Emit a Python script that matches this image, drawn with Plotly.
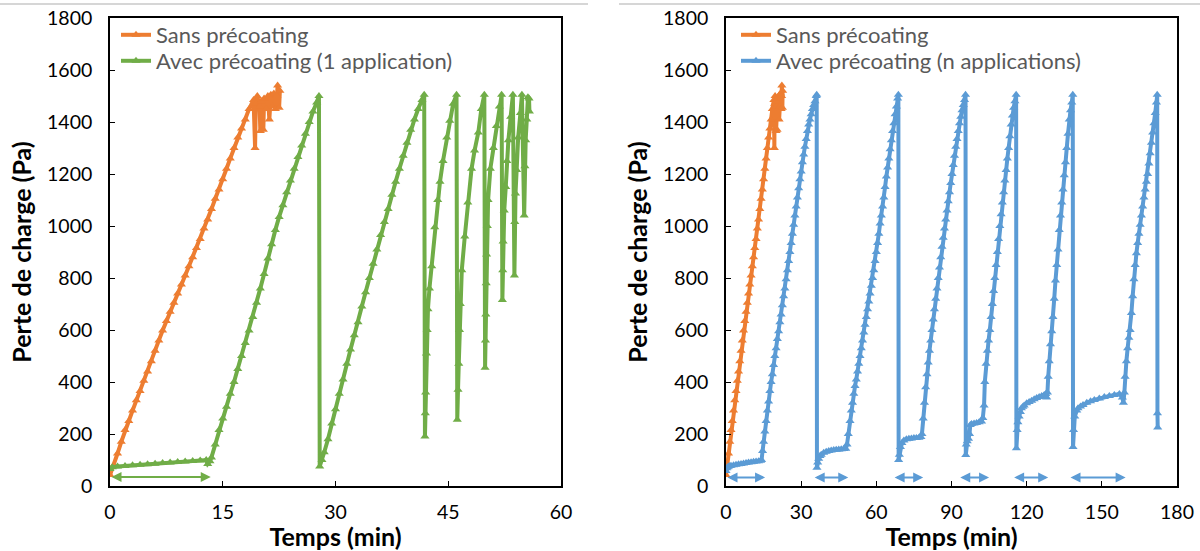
import plotly.graph_objects as go

# ---------------- data ----------------
# Sans précoating (same series drawn in both panels)
orange_t = [0, 0.5, 1, 1.5, 2, 2.5, 3, 3.5, 4, 4.5, 5, 5.5, 6, 6.5, 7, 7.5, 8, 8.5, 9, 9.5,
            10, 10.5, 11, 11.5, 12, 12.5, 13, 13.5, 14, 14.5, 15, 15.5, 16, 16.5, 17, 17.5, 18, 18.5,
            19.1, 19.3, 19.4, 19.6, 19.9, 20.0, 20.1, 20.4, 20.5, 20.8, 21.0, 21.2, 21.4, 21.6, 21.8,
            22.0, 22.2, 22.3, 22.5, 22.6]
orange_p = [42, 80, 125, 170, 215, 250, 290, 330, 365, 405, 440, 480, 520, 560, 598, 635, 670, 705, 740, 775,
            810, 845, 880, 915, 950, 990, 1025, 1065, 1105, 1140, 1180, 1220, 1260, 1300, 1340, 1375, 1410, 1450,
            1485, 1300, 1470, 1500, 1460, 1365, 1480, 1370, 1490, 1450, 1500, 1410, 1505, 1460, 1510,
            1450, 1500, 1540, 1455, 1520]

# Avec précoating (1 application)
green_t = [0, 0.3, 1, 2, 3, 4, 5, 6, 7, 8, 9, 10, 11, 12, 12.8, 13.0, 13.3,
           13.5, 14, 14.5, 15, 15.5, 16, 16.5, 17, 17.5, 18, 18.5, 19, 19.5, 20, 20.5, 21, 21.5, 22, 22.5,
           23, 23.5, 24, 24.5, 25, 25.5, 26, 26.5, 27, 27.5, 27.8,
           27.9, 28.2, 28.5, 29, 29.5, 30, 30.5, 31, 31.5, 32, 32.5, 33, 33.5, 34, 34.5, 35, 35.5, 36, 36.5,
           37, 37.5, 38, 38.5, 39, 39.5, 40, 40.5, 41, 41.5, 41.8,
           41.9, 41.95, 42.0, 42.1, 42.2, 42.3, 42.5, 42.8, 43.2, 43.6, 43.9, 44.3, 44.8, 45.2, 45.65, 46.1,
           46.2, 46.3, 46.4, 46.5, 46.6, 46.8, 47.2, 47.6, 48.1, 48.5, 49.0, 49.4, 49.8,
           49.9, 49.95, 50.0, 50.05, 50.1, 50.2, 50.3, 50.6, 51.0, 51.4, 51.8, 52.1,
           52.2, 52.25, 52.3, 52.45, 52.65, 52.8, 53.0, 53.3, 53.6,
           53.8, 53.85, 53.95, 54.1, 54.3, 54.6, 54.8,
           55.1, 55.2, 55.3, 55.45, 55.6, 55.75, 55.8]
green_p = [65, 72, 75, 77, 80, 82, 84, 86, 88, 90, 92, 94, 96, 98, 100, 85, 95,
           110, 160, 215, 260, 305, 355, 400, 450, 500, 550, 598, 650, 705, 760, 815, 875, 930, 985, 1035,
           1080, 1130, 1175, 1220, 1265, 1310, 1355, 1400, 1440, 1475, 1500,
           75, 100, 130, 180, 240, 295, 355, 410, 470, 525, 580, 630, 690, 745, 800, 855, 910, 965, 1015,
           1065, 1120, 1170, 1220, 1270, 1320, 1370, 1410, 1450, 1485, 1505,
           190, 280, 360, 510, 600, 680, 760, 845, 995, 1100, 1170, 1250, 1340, 1405, 1470, 1505,
           255, 370, 470, 600, 700, 830, 960, 1090, 1220, 1290, 1360, 1450, 1505,
           455, 560, 660, 780, 890, 1000, 1100, 1220, 1300, 1385, 1460, 1505,
           715, 830, 940, 1060, 1150, 1250, 1330, 1420, 1505,
           810, 1015, 1125, 1215, 1340, 1435, 1505,
           1040, 1230, 1330, 1410, 1495, 1490, 1440]

# Avec précoating (n applications)
blue_t = [0, 0.3, 0.7, 1, 1.5, 2, 3, 4, 5, 6, 7, 8, 9, 10, 11, 12, 13, 13.8, 14.2,
          14.6, 15, 15.5, 16, 16.5, 17, 17.5, 18, 18.5, 19, 19.5, 20, 20.5, 21, 21.5, 22, 22.5, 23, 23.5,
          24, 24.5, 25, 25.5, 26, 26.5, 27, 27.5, 28, 28.5, 29, 29.5, 30, 30.5, 31, 31.5, 32, 32.5, 33,
          33.5, 34, 34.5, 35, 35.5, 36.0, 36.2,
          36.3, 36.6, 37, 37.5, 38, 39, 40, 41, 42, 43, 44, 45, 46, 47, 47.8,
          48.3, 48.8, 49.5, 50, 50.5, 51, 51.5, 52, 52.5, 53, 53.5, 54, 54.5, 55, 55.5, 56, 56.5, 57, 57.5,
          58, 58.5, 59, 59.5, 60, 60.5, 61, 61.5, 62, 62.5, 63, 63.5, 64, 64.5, 65, 65.5, 66, 66.5, 67,
          67.5, 68, 68.5, 68.8,
          68.9, 69.2, 69.6, 70.2, 71, 72, 73, 74, 75, 76, 77, 77.8,
          78.2, 78.7, 79.2, 79.7, 80.2, 80.7, 81.2, 81.7, 82.2, 82.7, 83.2, 83.7, 84.2, 84.7, 85.2, 85.7,
          86.2, 86.7, 87.2, 87.7, 88.2, 88.7, 89.2, 89.7, 90.2, 90.7, 91.2, 91.7, 92.2, 92.7, 93.2, 93.7,
          94.2, 94.7, 95.2, 95.6,
          95.7, 95.9, 96.3, 96.8, 97.2, 97.5, 98, 99, 100, 101, 102, 102.5, 103, 103.3,
          103.8, 104.3, 104.8, 105.3, 105.8, 106.3, 106.8, 107.3, 107.8, 108.3, 108.8, 109.3, 109.8,
          110.3, 110.8, 111.3, 111.8, 112.3, 112.8, 113.3, 113.8, 114.3, 114.8, 115.3, 115.8,
          115.9, 116.2, 116.5, 117.0, 117.5, 117.9, 118.5, 119, 120, 121, 122, 123, 124, 125, 126, 127,
          127.6, 128.0, 128.3,
          128.6, 129, 129.5, 130, 130.5, 131, 131.5, 132, 132.5, 133, 133.5, 134, 134.5, 135, 135.5, 136,
          136.5, 137, 137.5, 138, 138.4,
          138.5, 138.7, 139.2, 140, 140.5, 141.5, 142.5, 144, 145.5, 147, 149, 151, 153, 155, 157, 158.2, 158.6,
          159.0, 159.3, 159.8, 160.3, 160.8, 161.3, 161.8, 162.3, 162.8, 163.3, 163.8, 164.3, 164.8, 165.3,
          165.8, 166.3, 166.8, 167.3, 167.8, 168.3, 168.8, 169.3, 169.8, 170.3, 170.8, 171.3, 171.8, 172.1,
          172.2, 172.3]
blue_p = [58, 68, 72, 75, 77, 78, 80, 82, 84, 85, 87, 88, 90, 91, 93, 94, 95, 97, 100,
          135, 170, 210, 250, 290, 325, 365, 400, 430, 465, 500, 530, 565, 595, 630, 660, 695, 730, 760,
          795, 830, 865, 900, 935, 970, 1005, 1040, 1075, 1110, 1145, 1180, 1210, 1245, 1275, 1305, 1335, 1365, 1390,
          1410, 1430, 1450, 1465, 1480, 1500, 1505,
          70, 90, 105, 115, 120, 128, 132, 135, 137, 138, 139, 140, 141, 142, 143,
          160, 200, 250, 290, 320, 355, 385, 410, 440, 470, 500, 530, 560, 590, 620, 650, 680, 710, 740,
          770, 800, 830, 865, 900, 935, 970, 1010, 1040, 1075, 1110, 1150, 1190, 1225, 1260, 1295, 1330, 1365, 1395,
          1430, 1460, 1490, 1505,
          100, 120, 150, 165, 175, 180, 182, 183, 185, 185, 186, 188,
          200, 260, 320, 380, 430, 475, 520, 560, 600, 640, 680, 720, 760, 800, 840, 880,
          920, 955, 990, 1025, 1060, 1095, 1130, 1165, 1200, 1235, 1270, 1305, 1335, 1365, 1395, 1420,
          1445, 1465, 1485, 1505,
          119, 160, 172, 182, 200, 235, 238, 240, 242, 245, 248, 262, 310, 400,
          470, 520, 560, 600, 650, 700, 750, 800, 850, 900, 950, 1000, 1045,
          1090, 1130, 1175, 1215, 1260, 1300, 1345, 1390, 1425, 1455, 1480, 1505,
          145, 215, 245, 267, 285, 299, 305, 310, 318, 323, 328, 334, 338, 342, 346, 350,
          354, 340, 360,
          420, 480, 545, 595, 650, 720, 790, 850, 910, 985, 1040, 1090, 1140, 1195, 1245, 1300,
          1355, 1410, 1445, 1475, 1505,
          150, 215, 267, 290, 299, 306, 312, 320, 326, 331, 337, 342, 346, 350, 354, 340, 320,
          360, 420, 480, 530, 570, 600, 665, 730, 795, 850, 895, 935, 970, 1005,
          1040, 1075, 1110, 1140, 1170, 1200, 1240, 1280, 1320, 1360, 1395, 1435, 1475, 1505,
          280, 225]

# precoating periods (double arrows), in minutes
arrow1_start = [0]
arrow1_end = [13.4]
arrow1_level = 35
arrown_start = [0, 34.8, 66.7, 92.9, 114.4, 136.9]
arrown_end = [15.6, 48.8, 78.7, 105.0, 128.6, 159.5]
arrown_level = 33

# tick values
left_xticks = [0, 15, 30, 45, 60]
right_xticks = [0, 30, 60, 90, 120, 150, 180]
y_ticks = [0, 200, 400, 600, 800, 1000, 1200, 1400, 1600, 1800]

names = ["Sans précoating", "Avec précoating (1 application)", "Avec précoating (n applications)"]

# ---------------- styling ----------------
ORANGE = "#ED7D31"
GREEN = "#70AD47"
BLUE = "#5B9BD5"
FONT = "Lato"
W, H = 1200, 551


def series(t, p, name, color, xa, ya, legend):
    return go.Scatter(
        x=t, y=p, name=name, mode="lines+markers", xaxis=xa, yaxis=ya, legend=legend,
        line=dict(color=color, width=4),
        marker=dict(symbol="triangle-up", size=8, color=color, line=dict(width=0)),
    )


fig = go.Figure()
fig.add_trace(series(orange_t, orange_p, names[0], ORANGE, "x", "y", "legend"))
fig.add_trace(series(green_t, green_p, names[1], GREEN, "x", "y", "legend2"))
fig.add_trace(series(orange_t, orange_p, names[0], ORANGE, "x2", "y2", "legend3"))
fig.add_trace(series(blue_t, blue_p, names[2], BLUE, "x2", "y2", "legend4"))

ax_common = dict(
    showline=True, linecolor="black", linewidth=1.6, mirror=True,
    ticks="inside", ticklen=5, tickwidth=1.2, tickcolor="black",
    showgrid=False, zeroline=False, automargin=False,
    tickfont=dict(family=FONT, size=19.5, color="black"),
)
title_font = dict(family=FONT, size=25, color="black", weight="bold")
ydom = [65 / H, 533 / H]


def leg(x_px, top_px):
    return dict(x=x_px / W, y=1 - top_px / H, xanchor="left", yanchor="top", bgcolor="rgba(0,0,0,0)",
                font=dict(family=FONT, size=22, color="#595959"), itemwidth=30)


fig.update_layout(
    width=W, height=H,
    margin=dict(l=0, r=0, t=0, b=0),
    paper_bgcolor="white", plot_bgcolor="white",
    showlegend=True,
    xaxis=dict(domain=[110 / W, 561 / W], range=[0, 60], tickvals=left_xticks, anchor="y",
               ticklabelstandoff=8,
               title=dict(text="Temps (min)", font=title_font, standoff=0), **ax_common),
    yaxis=dict(domain=ydom, range=[0, 1800], tickvals=y_ticks, anchor="x",
               ticklabelstandoff=12,
               title=dict(text="Perte de charge (Pa)", font=title_font, standoff=8), **ax_common),
    xaxis2=dict(domain=[726 / W, 1177 / W], range=[0, 180], tickvals=right_xticks, anchor="y2",
                ticklabelstandoff=8,
                title=dict(text="Temps (min)", font=title_font, standoff=0), **ax_common),
    yaxis2=dict(domain=ydom, range=[0, 1800], tickvals=y_ticks, anchor="x2",
                ticklabelstandoff=12,
                title=dict(text="Perte de charge (Pa)", font=title_font, standoff=8), **ax_common),
    legend=leg(116, 14),
    legend2=leg(116, 40),
    legend3=leg(736, 14),
    legend4=leg(736, 40),
)

annotations = []
for s, e in zip(arrow1_start, arrow1_end):
    annotations.append(dict(x=e, y=arrow1_level, ax=s, ay=arrow1_level, xref="x", yref="y",
                            axref="x", ayref="y", text="", showarrow=True, arrowhead=2, startarrowhead=2,
                            arrowside="end+start", arrowsize=1.0, startarrowsize=1.0, arrowwidth=2,
                            arrowcolor=GREEN))
for s, e in zip(arrown_start, arrown_end):
    annotations.append(dict(x=e, y=arrown_level, ax=s, ay=arrown_level, xref="x2", yref="y2",
                            axref="x2", ayref="y2", text="", showarrow=True, arrowhead=2, startarrowhead=2,
                            arrowside="end+start", arrowsize=1.0, startarrowsize=1.0, arrowwidth=2,
                            arrowcolor=BLUE))
fig.update_layout(annotations=annotations)

# thin grey page rules at the very top
fig.add_shape(type="line", xref="paper", yref="paper", x0=0, x1=588 / W, y0=1 - 4 / H, y1=1 - 4 / H,
              line=dict(color="#c8c8c8", width=1.5))
fig.add_shape(type="line", xref="paper", yref="paper", x0=619 / W, x1=1, y0=1 - 4 / H, y1=1 - 4 / H,
              line=dict(color="#c8c8c8", width=1.5))

fig.write_html("out.html",
               config={"displayModeBar": False},
               post_script="document.body.style.margin='0';document.body.style.overflow='hidden';")
